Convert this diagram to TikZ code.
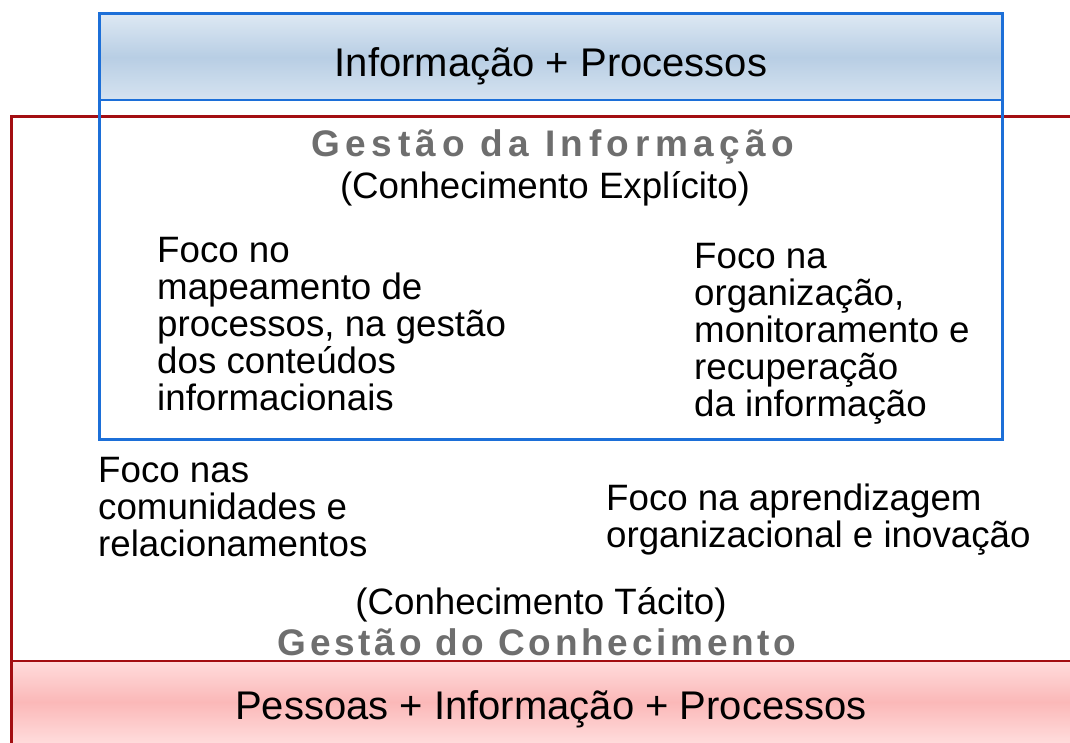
\documentclass[tikz,border=0pt]{standalone}
\usepackage{fontspec}
\setmainfont{Liberation Sans}
\definecolor{boxblue}{HTML}{1C6FD8}
\definecolor{boxred}{HTML}{A30E12}
\definecolor{titlegray}{HTML}{6E6E6E}
\definecolor{bandbluetop}{HTML}{DDE8F3}
\definecolor{bandbluemid}{HTML}{B8CEE4}
\definecolor{bandredtop}{HTML}{FFDCDC}
\definecolor{bandredmid}{HTML}{FBB8B8}
\begin{document}
\begin{tikzpicture}[x=1pt,y=-1pt,
    band/.style={font=\fontsize{40}{44}\selectfont, inner sep=0pt},
    title/.style={font=\fontsize{37}{40}\selectfont\bfseries, text=titlegray, inner sep=0pt},
    body/.style={font=\fontsize{36.7}{37}\selectfont, align=left, inner sep=0pt, anchor=north west},
    sub/.style={font=\fontsize{36.7}{40}\selectfont, inner sep=0pt}]
    \useasboundingbox (0,0) rectangle (1070,743);
    \fill [white] (0,0) rectangle (1070,743);

    % bottom band and red frame
    \shade [top color=bandredtop, bottom color=bandredtop, middle color=bandredmid] (11,661) rectangle (1070,743);
    \draw [boxred, line width=1.4pt] (11,661) -- (1070,661);
    \draw [boxred, line width=3pt] (11,743) -- (11,117) -- (1070,117);

    % top band and blue frame
    \shade [top color=bandbluetop, bottom color=bandbluetop!80!bandbluemid, middle color=bandbluemid] (99,14) rectangle (1002,100);
    \draw [boxblue, line width=1.5pt] (99,100) -- (1002,100);
    \draw [boxblue, line width=3pt] (99,14) rectangle (1002,439);

    \node [band] (info) at (551,66) {Informação + Processos};
    \node [title] (gi) at (553,147) {\addfontfeature{LetterSpace=15}Gestão da Informação};
    \node [sub] (expl) at (545,189) {(Conhecimento Explícito)};

    \node [body] (mapa) at (157,237) {Foco no\\mapeamento de\\processos, na gestão\\dos conteúdos\\informacionais};
    \node [body] (recup) at (694,243) {Foco na\\organização,\\monitoramento e\\recuperação\\da informação};
    \node [body] (comun) at (98,457) {Foco nas\\comunidades e\\relacionamentos};
    \node [body] (aprend) at (606,484) {Foco na aprendizagem\\organizacional e inovação};

    \node [sub] (tacit) at (541,605) {(Conhecimento Tácito)};
    \node [title] (gc) at (537,642) {\addfontfeature{LetterSpace=10}Gestão do Conhecimento};
    \node [band] (pessoas) at (551,709) {Pessoas + Informação + Processos};
\end{tikzpicture}
\end{document}
